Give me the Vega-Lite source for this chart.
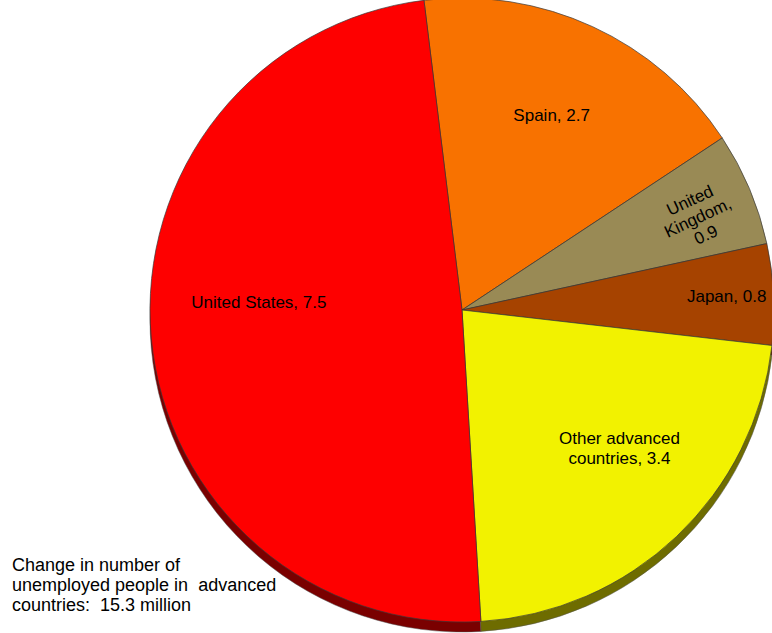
{
  "$schema": "https://vega.github.io/schema/vega-lite/v6.json",
  "width": 620,
  "height": 620,
  "autosize": {"type": "none"},
  "padding": {"left": 152, "top": 0, "right": 0, "bottom": 13},
  "background": "white",
  "config": {"view": {"stroke": null}},
  "title": {
    "text": ["Change in number of", "unemployed people in\u00a0 advanced", "countries:\u00a0 15.3 million"],
    "orient": "bottom",
    "anchor": "start",
    "frame": "group",
    "align": "left",
    "baseline": "alphabetic",
    "offset": 0,
    "dx": -140,
    "dy": -62,
    "font": "Liberation Sans",
    "fontSize": 18,
    "fontWeight": "normal",
    "color": "#000000",
    "lineHeight": 20
  },
  "data": {
    "values": [
      {"country": "Spain", "label": "Spain, 2.7", "value": 2.7, "order": 1},
      {"country": "United Kingdom", "label": "United\nKingdom,\n0.9", "value": 0.9, "order": 2},
      {"country": "Japan", "label": "Japan, 0.8", "value": 0.8, "order": 3},
      {"country": "Other advanced countries", "label": "Other advanced\ncountries, 3.4", "value": 3.4, "order": 4},
      {"country": "United States", "label": "United States, 7.5", "value": 7.5, "order": 5}
    ]
  },
  "encoding": {
    "theta": {"field": "value", "type": "quantitative", "stack": true, "scale": {"range": [-0.1222, 6.1610]}},
    "order": {"field": "order", "type": "quantitative"}
  },
  "layer": [
    {
      "mark": {"type": "arc", "radius": 312, "yOffset": 10, "stroke": "#555555", "strokeWidth": 0.5},
      "encoding": {
        "color": {
          "field": "country", "type": "nominal", "legend": null,
          "scale": {
            "domain": ["Spain", "United Kingdom", "Japan", "Other advanced countries", "United States"],
            "range": ["#8a3f00", "#5a5230", "#5e2600", "#6e6c00", "#7a0000"]
          }
        }
      }
    },
    {
      "mark": {"type": "arc", "radius": 312, "stroke": "#3a3a3a", "strokeWidth": 0.7},
      "encoding": {
        "color": {
          "field": "country", "type": "nominal", "legend": null,
          "scale": {
            "domain": ["Spain", "United Kingdom", "Japan", "Other advanced countries", "United States"],
            "range": ["#F87200", "#998A55", "#A64300", "#F2F200", "#FE0000"]
          }
        }
      }
    },
    {
      "mark": {"type": "text", "radius": 214, "font": "Liberation Sans", "fontSize": 17, "color": "#000000", "lineBreak": "\n", "lineHeight": 20, "baseline": "middle", "align": "center"},
      "encoding": {"text": {"condition": {"test": "datum.country === 'Spain'", "field": "label"}, "value": ""}}
    },
    {
      "mark": {"type": "text", "radius": 262, "angle": 335, "dx": -9, "dy": -12, "font": "Liberation Sans", "fontSize": 17, "color": "#000000", "lineBreak": "\n", "lineHeight": 19, "baseline": "middle", "align": "center"},
      "encoding": {"text": {"condition": {"test": "datum.country === 'United Kingdom'", "field": "label"}, "value": ""}}
    },
    {
      "mark": {"type": "text", "radius": 265, "font": "Liberation Sans", "fontSize": 17, "color": "#000000", "lineBreak": "\n", "lineHeight": 20, "baseline": "middle", "align": "center"},
      "encoding": {"text": {"condition": {"test": "datum.country === 'Japan'", "field": "label"}, "value": ""}}
    },
    {
      "mark": {"type": "text", "radius": 210, "dx": 13, "dy": -23, "font": "Liberation Sans", "fontSize": 17, "color": "#000000", "lineBreak": "\n", "lineHeight": 20, "baseline": "middle", "align": "center"},
      "encoding": {"text": {"condition": {"test": "datum.country === 'Other advanced countries'", "field": "label"}, "value": ""}}
    },
    {
      "mark": {"type": "text", "radius": 204, "dy": -26, "font": "Liberation Sans", "fontSize": 17, "color": "#000000", "lineBreak": "\n", "lineHeight": 20, "baseline": "middle", "align": "center"},
      "encoding": {"text": {"condition": {"test": "datum.country === 'United States'", "field": "label"}, "value": ""}}
    }
  ],
  "resolve": {"scale": {"color": "independent"}}
}
